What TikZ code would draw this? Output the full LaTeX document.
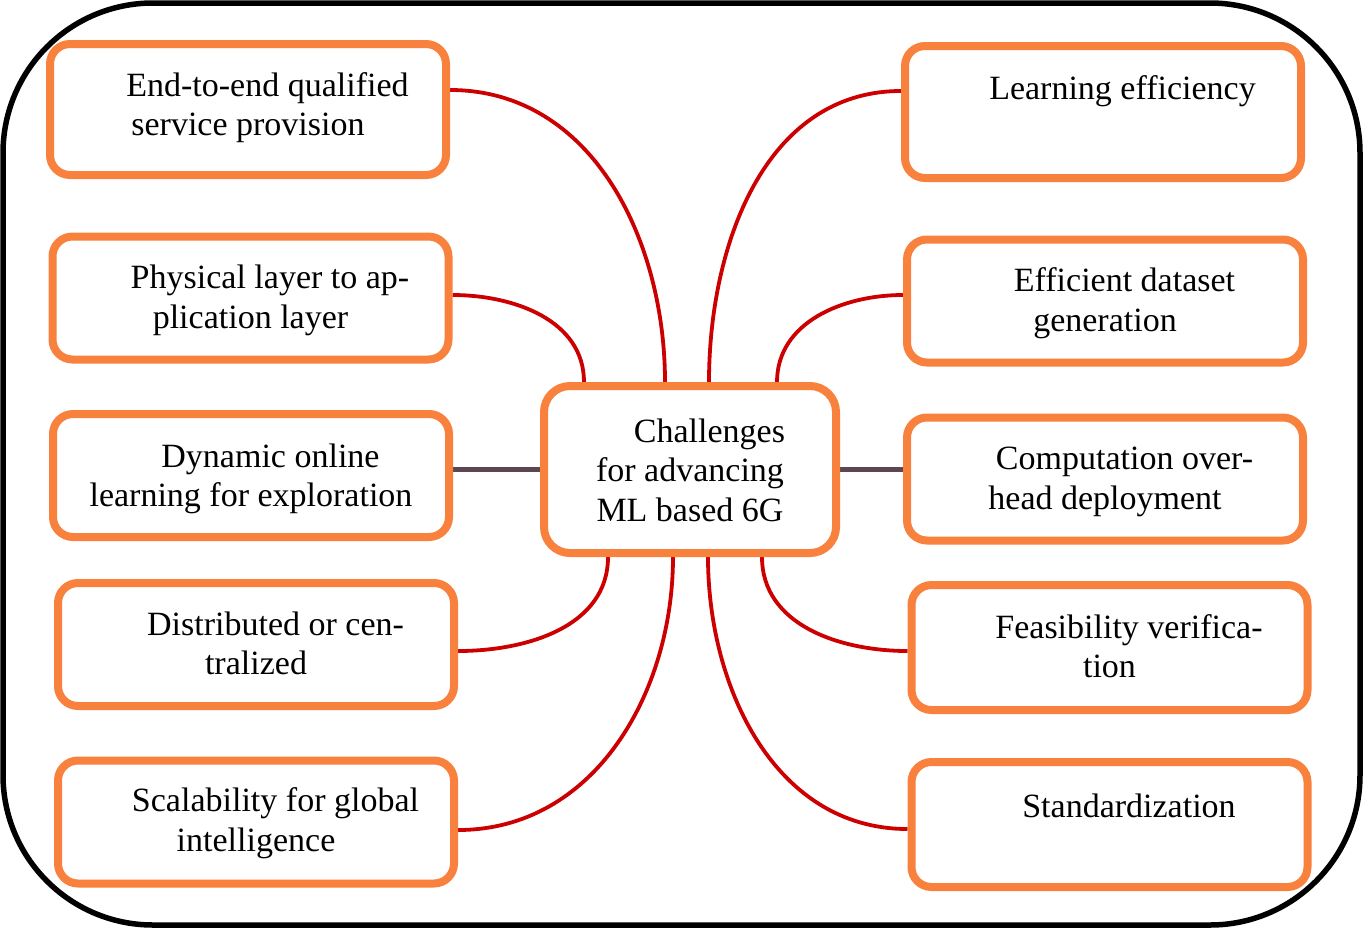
\documentclass[tikz,border=0pt]{standalone}
\usepackage{fontspec}
\setmainfont{Liberation Serif}
\usepackage{tikz}
\usetikzlibrary{backgrounds}

\definecolor{boxorange}{RGB}{248,129,62}
\definecolor{linkred}{RGB}{204,0,0}
\definecolor{flatgray}{RGB}{92,70,82}

\newcommand{\firstind}{\hspace*{39pt}}

\begin{document}
\begin{tikzpicture}[x=1pt, y=-1pt,
    chal/.style={draw=boxorange, line width=8pt, fill=white, rounded corners=20pt, minimum width=396pt, minimum height=123pt},
    hub/.style={chal, minimum width=292pt, minimum height=167pt, rounded corners=26pt},
    chaltext/.style={anchor=base, align=center, inner sep=0pt, font=\fontsize{34}{39.5}\selectfont},
    link/.style={draw=linkred, line width=3.8pt},
    flat/.style={draw=flatgray, line width=4.5pt}]
    \useasboundingbox (0, 0) rectangle (1363, 930);

    % centre (base = last line)
    \node[hub] (C) at (690, 469.5) {};
    \node[chaltext] (tC) at ([yshift=-139pt]C.north) {\firstind Challenges\\for advancing\\ML based 6G};

    % left column
    \node[chal, minimum height=131pt] (L1) at (248, 109.5) {};
    \node[chal] (L2) at (250.5, 298) {};
    \node[chal] (L3) at (251, 475.5) {};
    \node[chal] (L4) at (256, 644.5) {};
    \node[chal] (L5) at (256, 822) {};
    \node[chaltext] (tL1) at ([yshift=-95.5pt]L1.north) {\firstind End-to-end qualified\\service provision};
    \node[chaltext] (tL2) at ([yshift=-95.5pt]L2.north) {\firstind Physical layer to ap-\\plication layer};
    \node[chaltext] (tL3) at ([yshift=-96.5pt]L3.north) {\firstind Dynamic online\\learning for exploration};
    \node[chaltext] (tL4) at ([yshift=-95.5pt]L4.north) {\firstind Distributed or cen-\\tralized};
    \node[chaltext] (tL5) at ([yshift=-94.5pt]L5.north) {\firstind Scalability for global\\intelligence};

    % right column
    \node[chal, minimum height=132pt] (R1) at (1103, 112) {};
    \node[chal] (R2) at (1105, 301) {};
    \node[chal] (R3) at (1105, 479) {};
    \node[chal, minimum height=125pt] (R4) at (1109.5, 647.5) {};
    \node[chal, minimum height=125pt] (R5) at (1109.5, 824.5) {};
    \node[chaltext] (tR1) at ([yshift=-57pt]R1.north) {\firstind Learning efficiency};
    \node[chaltext] (tR2) at ([yshift=-95.5pt]R2.north) {\firstind Efficient dataset\\generation};
    \node[chaltext] (tR3) at ([yshift=-95.5pt]R3.north) {\firstind Computation over-\\head deployment};
    \node[chaltext] (tR4) at ([yshift=-96.5pt]R4.north) {\firstind Feasibility verifica-\\tion};
    \node[chaltext] (tR5) at ([yshift=-59pt]R5.north) {\firstind Standardization};

    \begin{scope}[on background layer]
        \draw[line width=5.5pt, rounded corners=150pt] (3, 3) rectangle (1360, 925);
        \draw[link] ([yshift=19.5pt]L1.east) to[out=0, in=90] ([xshift=-25pt]C.north);
        \draw[link] ([yshift=3pt]L2.east) to[out=0, in=90] ([xshift=-106pt]C.north);
        \draw[flat] (C.west) -- (L3.east |- C.west);
        \draw[link] ([yshift=-6.5pt]L4.east) to[out=0, in=-90] ([xshift=-82pt]C.south);
        \draw[link] ([yshift=-8pt]L5.east) to[out=0, in=-90] ([xshift=-17pt]C.south);
        \draw[link] ([yshift=21pt]R1.west) to[out=180, in=90] ([xshift=19pt]C.north);
        \draw[link] ([yshift=6pt]R2.west) to[out=180, in=90] ([xshift=87pt]C.north);
        \draw[flat] (C.east) -- (R3.west |- C.east);
        \draw[link] ([yshift=-3.5pt]R4.west) to[out=180, in=-90] ([xshift=72pt]C.south);
        \draw[link] ([yshift=-4.5pt]R5.west) to[out=180, in=-90] ([xshift=18pt]C.south);
    \end{scope}
\end{tikzpicture}
\end{document}
